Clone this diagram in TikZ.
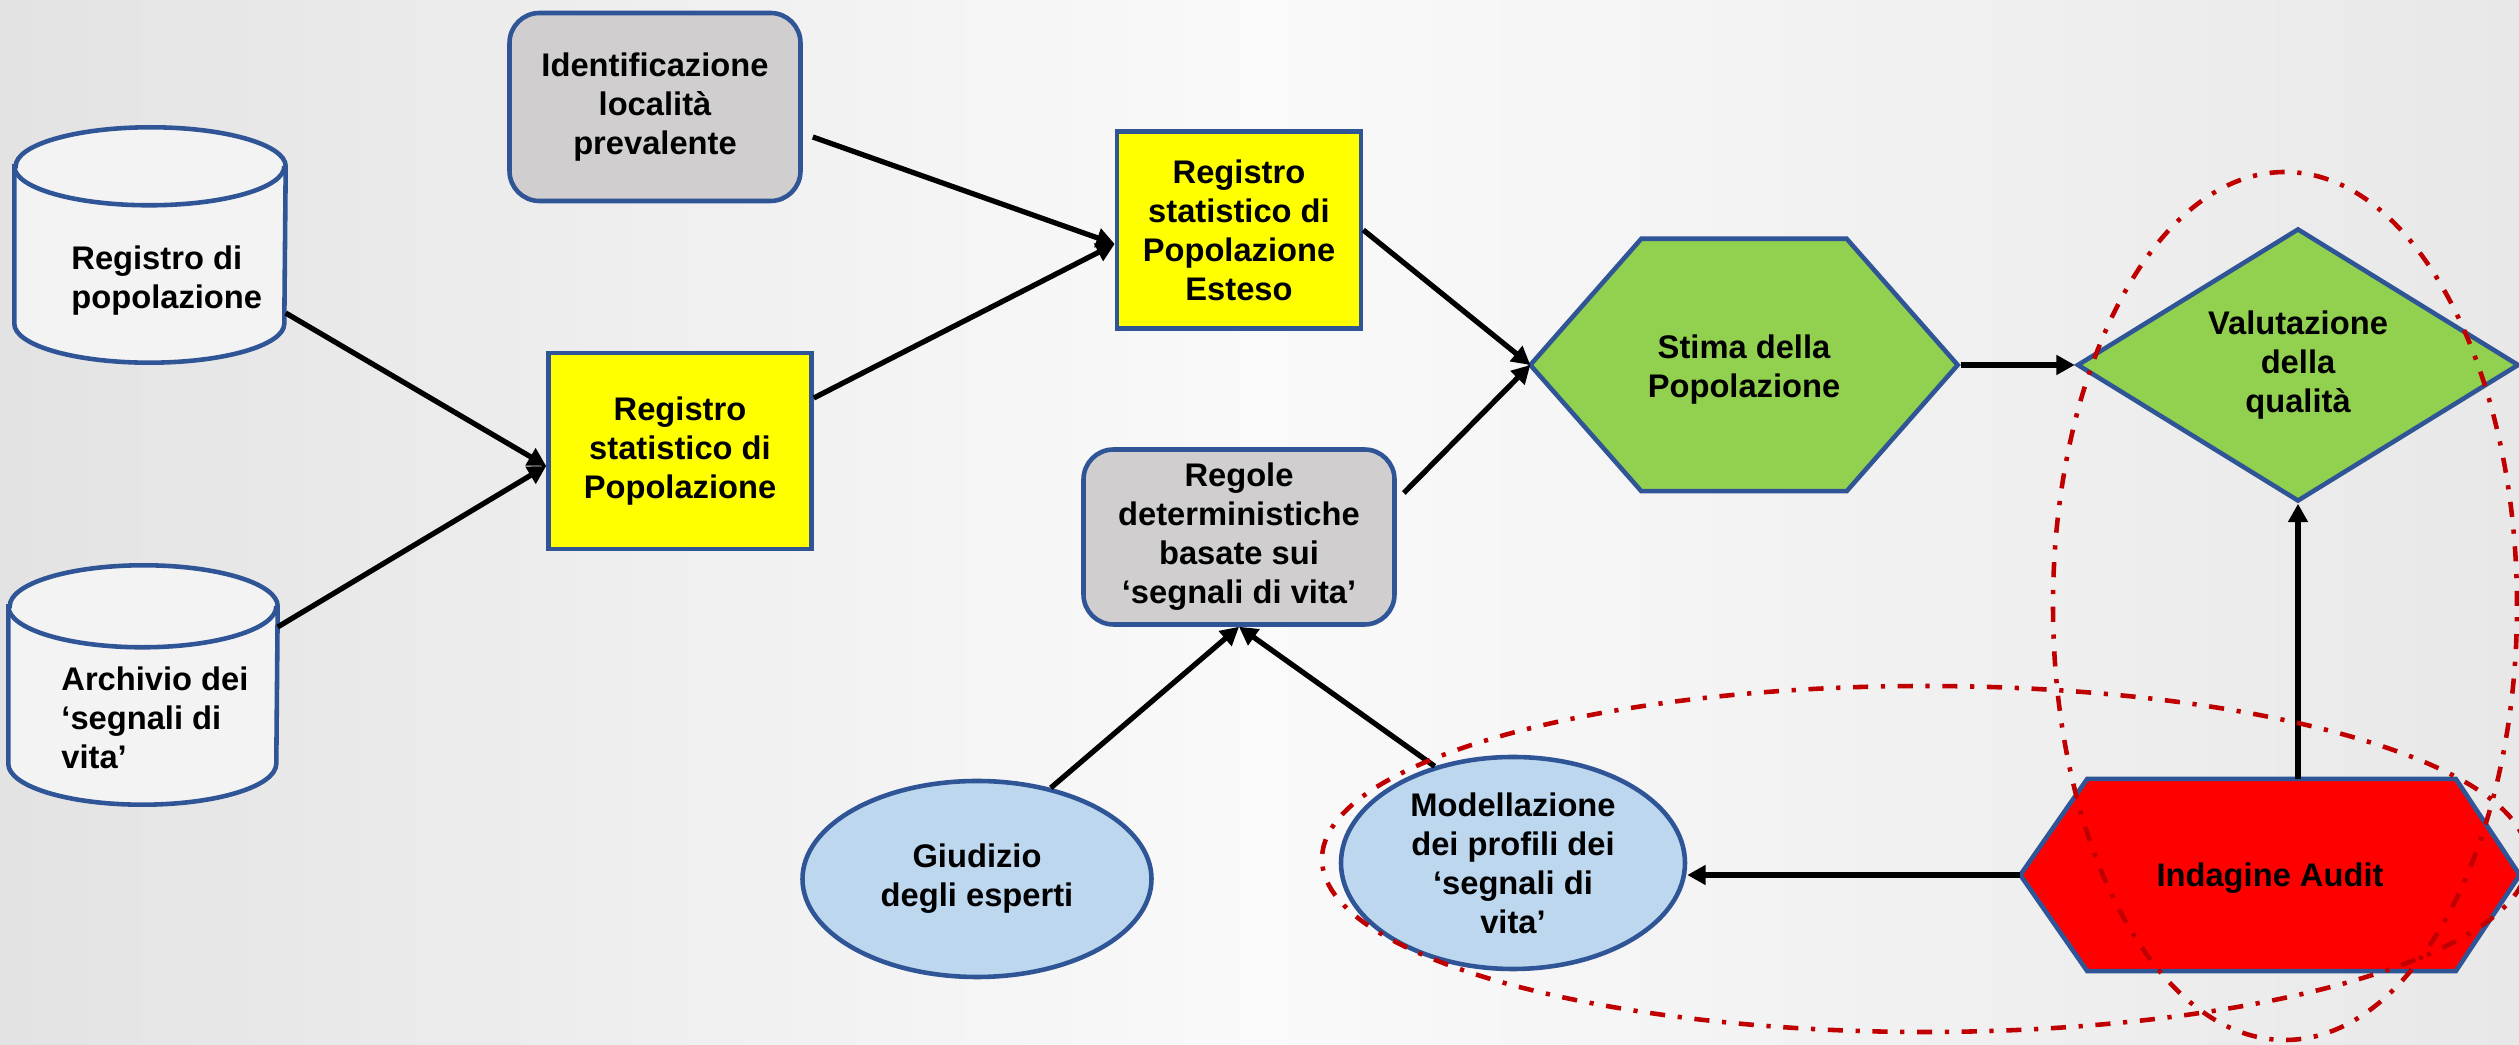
\documentclass[tikz,border=0pt]{standalone}
\usepackage{fontspec}
\setmainfont{Liberation Sans}
\usetikzlibrary{shapes.geometric,arrows.meta}

\definecolor{bordo}{HTML}{2F5597}
\definecolor{giallo}{HTML}{FFFF00}
\definecolor{grigio}{HTML}{D0CECE}
\definecolor{azzurro}{HTML}{BDD7EE}
\definecolor{verde}{HTML}{92D050}
\definecolor{rosso}{HTML}{FF0000}
\definecolor{anello}{HTML}{C00000}
\definecolor{cilindro}{HTML}{F3F3F3}

\begin{document}
\begin{tikzpicture}[>={Triangle[length=5.2pt,width=5.4pt]},
    testo/.style={font=\bfseries\fontsize{9.3}{11.1}\selectfont,align=center},
    contorno/.style={draw=bordo,line width=1.3pt},
    forma/.style={testo,contorno,inner sep=0pt},
    sagoma/.style={inner sep=0pt},
    passo/.style={forma,rounded corners=0.3cm,fill=grigio},
    registro/.style={forma,fill=giallo},
    esperto/.style={forma,ellipse,fill=azzurro},
    freccia/.style={->,line width=1.5pt},
    cerchio/.style={anello,line width=1.3pt,dash pattern=on 4.3pt off 3.6pt on 1.2pt off 3.6pt}]
  \shade[left color=black!11,right color=black!9,middle color=black!2]
    (0,0) rectangle (25.19,10.45);
  \useasboundingbox (0,0) rectangle (25.19,10.45);

  % archivi (cilindri)
  \node (RP) [sagoma,minimum width=2.70cm,minimum height=2.34cm] at (1.50,8.00) {};
  \draw[contorno,fill=cilindro] ([yshift=-0.39cm]RP.north west) -- ([yshift=0.39cm]RP.south west)
    arc[start angle=180,end angle=360,x radius=1.35cm,y radius=0.39cm]
    -- ([yshift=-0.39cm]RP.north east)
    arc[start angle=0,end angle=180,x radius=1.35cm,y radius=0.39cm] -- cycle;
  \draw[contorno] ([yshift=-0.39cm]RP.north west)
    arc[start angle=180,end angle=360,x radius=1.35cm,y radius=0.39cm];
  \node (RPtxt) [testo,anchor=west,align=left] at (0.59,7.64) {Registro di\\popolazione};

  \node (ASV) [sagoma,minimum width=2.68cm,minimum height=2.38cm] at (1.43,3.60) {};
  \draw[contorno,fill=cilindro] ([yshift=-0.41cm]ASV.north west) -- ([yshift=0.41cm]ASV.south west)
    arc[start angle=180,end angle=360,x radius=1.34cm,y radius=0.41cm]
    -- ([yshift=-0.41cm]ASV.north east)
    arc[start angle=0,end angle=180,x radius=1.34cm,y radius=0.41cm] -- cycle;
  \draw[contorno] ([yshift=-0.41cm]ASV.north west)
    arc[start angle=180,end angle=360,x radius=1.34cm,y radius=0.41cm];
  \node (ASVtxt) [testo,anchor=west,align=left] at (0.49,3.27) {Archivio dei\\‘segnali di\\vita’};

  \node (ILP) [passo,minimum width=2.91cm,minimum height=1.88cm] at (6.55,9.38) {Identificazione\\località\\prevalente};

  % registri e regole
  \node (RSP) [registro,minimum width=2.63cm,minimum height=1.96cm] at (6.80,5.94) {Registro\\statistico di\\Popolazione};
  \node (RSPE) [registro,minimum width=2.44cm,minimum height=1.97cm] at (12.39,8.15) {Registro\\statistico di\\Popolazione\\Esteso};
  \node (RDSV) [passo,minimum width=3.11cm,minimum height=1.75cm] at (12.39,5.08) {Regole\\deterministiche\\basate sui\\‘segnali di vita’};
  \node (GE) [esperto,minimum width=3.49cm,minimum height=1.96cm] at (9.77,1.66) {Giudizio\\degli esperti};
  \node (MPSV) [esperto,minimum width=3.44cm,minimum height=2.12cm] at (15.13,1.82) {Modellazione\\dei profili dei\\‘segnali di\\vita’};

  % stima e qualita' (esagoni)
  \node (SP) [sagoma,minimum width=4.26cm,minimum height=2.51cm] at (17.44,6.80) {};
  \draw[contorno,fill=verde] (SP.west) -- ([xshift=1.11cm]SP.north west) -- ([xshift=-1.11cm]SP.north east)
    -- (SP.east) -- ([xshift=-1.11cm]SP.south east) -- ([xshift=1.11cm]SP.south west) -- cycle;
  \node (SPtxt) [testo] at ([yshift=-0.05cm]SP.center) {Stima della\\Popolazione};

  \node (VQ) [forma,diamond,fill=verde,aspect=1.62,minimum width=4.42cm,minimum height=2.73cm] at (22.98,6.80) {Valutazione\\della\\qualità};

  \node (IA) [sagoma,minimum width=4.98cm,minimum height=1.91cm] at (22.70,1.70) {};
  \draw[contorno,fill=rosso] (IA.west) -- ([xshift=0.67cm]IA.north west) -- ([xshift=-0.64cm]IA.north east)
    -- (IA.east) -- ([xshift=-0.64cm]IA.south east) -- ([xshift=0.67cm]IA.south west) -- cycle;
  \node (IAtxt) [testo] at ([yshift=-0.03cm]IA.center) {Indagine Audit};

  \draw[freccia] ([yshift=-0.68cm]RP.east) -- ([yshift=-0.15cm]RSP.west);
  \draw[freccia] ([yshift=0.58cm]ASV.east) -- ([yshift=-0.15cm]RSP.west);
  \draw[freccia] ([xshift=0.1cm,yshift=-0.30cm]ILP.east) -- ([yshift=-0.14cm]RSPE.west);
  \draw[freccia] ([yshift=0.53cm]RSP.east) -- ([yshift=-0.14cm]RSPE.west);
  \draw[freccia] (RSPE.east) -- (SP.west);
  \draw[freccia] ([xshift=0.07cm,yshift=0.44cm]RDSV.east) -- (SP.west);
  \draw[freccia] ([xshift=0.03cm]SP.east) -- (VQ.west);
  \draw[freccia] (GE.51) -- (RDSV.south);
  \draw[freccia] (MPSV.129) -- (RDSV.south);
  \draw[freccia] (IA.west) -- (IA.west -| MPSV.east);
  \draw[freccia] (IA.north -| VQ.south) -- (VQ.south);

  % anelli tratto-punto
  \draw[cerchio] (22.85,4.39) ellipse [x radius=2.32,y radius=4.34];
  \draw[cerchio] (19.25,1.86) ellipse [x radius=6.03,y radius=1.73];
\end{tikzpicture}
\end{document}
